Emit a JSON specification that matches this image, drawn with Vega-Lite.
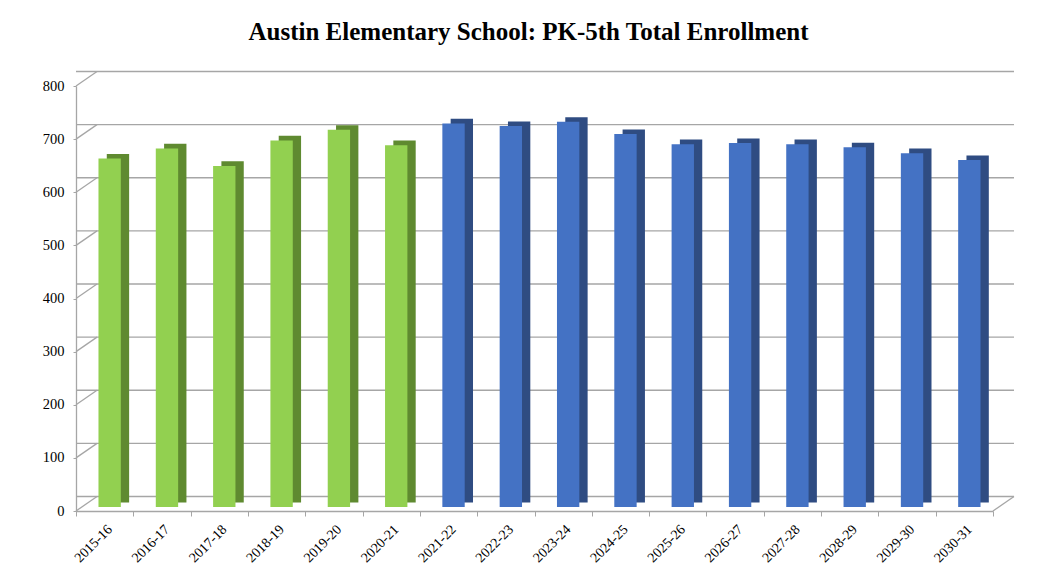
{
  "$schema": "https://vega.github.io/schema/vega-lite/v6.json",
  "width": 917,
  "height": 425,
  "autosize": "none",
  "padding": {"left": 76, "top": 86, "right": 53, "bottom": 70},
  "background": "white",
  "title": {
    "text": "Austin Elementary School: PK-5th Total Enrollment",
    "font": "Liberation Serif",
    "fontSize": 25,
    "fontWeight": "bold",
    "color": "#000000",
    "anchor": "middle",
    "frame": "group",
    "baseline": "alphabetic",
    "offset": 6,
    "dx": -6
  },
  "datasets": {
    "enrollment": [
      {"year": "2015-16", "students": 656, "period": "actual"},
      {"year": "2016-17", "students": 675, "period": "actual"},
      {"year": "2017-18", "students": 642, "period": "actual"},
      {"year": "2018-19", "students": 690, "period": "actual"},
      {"year": "2019-20", "students": 710, "period": "actual"},
      {"year": "2020-21", "students": 681, "period": "actual"},
      {"year": "2021-22", "students": 722, "period": "projected"},
      {"year": "2022-23", "students": 717, "period": "projected"},
      {"year": "2023-24", "students": 725, "period": "projected"},
      {"year": "2024-25", "students": 702, "period": "projected"},
      {"year": "2025-26", "students": 683, "period": "projected"},
      {"year": "2026-27", "students": 685, "period": "projected"},
      {"year": "2027-28", "students": 683, "period": "projected"},
      {"year": "2028-29", "students": 677, "period": "projected"},
      {"year": "2029-30", "students": 666, "period": "projected"},
      {"year": "2030-31", "students": 653, "period": "projected"}
    ],
    "grid": [
      {"year": "2015-16", "v": 0},
      {"year": "2015-16", "v": 100},
      {"year": "2015-16", "v": 200},
      {"year": "2015-16", "v": 300},
      {"year": "2015-16", "v": 400},
      {"year": "2015-16", "v": 500},
      {"year": "2015-16", "v": 600},
      {"year": "2015-16", "v": 700},
      {"year": "2015-16", "v": 800}
    ],
    "floor": [
      {"year": "2030-31", "v": 0}
    ]
  },
  "encoding": {
    "x": {
      "field": "year",
      "type": "nominal",
      "sort": null,
      "scale": {
        "domain": ["2015-16", "2016-17", "2017-18", "2018-19", "2019-20", "2020-21", "2021-22", "2022-23", "2023-24", "2024-25", "2025-26", "2026-27", "2027-28", "2028-29", "2029-30", "2030-31"],
        "paddingInner": 0,
        "paddingOuter": 0
      },
      "axis": {
        "title": null,
        "tickBand": "extent",
        "labelAngle": -45,
        "labelFont": "Liberation Serif",
        "labelFontSize": 14,
        "labelColor": "#000000",
        "labelPadding": 6,
        "tickSize": 5,
        "tickColor": "#a6a6a6",
        "domainColor": "#a6a6a6",
        "domainWidth": 1.3,
        "grid": false
      }
    }
  },
  "layer": [
    {
      "data": {"name": "grid"},
      "mark": {"type": "rule", "color": "#a6a6a6", "strokeWidth": 1.3, "xOffset": 21, "x2Offset": 21, "yOffset": -14.5},
      "encoding": {
        "x": null,
        "y": {
          "field": "v",
          "type": "quantitative",
          "scale": {"domain": [0, 800], "nice": false},
          "axis": {
            "title": null,
            "values": [0, 100, 200, 300, 400, 500, 600, 700, 800],
            "grid": false,
            "tickSize": 3,
            "tickColor": "#a6a6a6",
            "domainColor": "#a6a6a6",
            "domainWidth": 1.3,
            "labelFont": "Liberation Serif",
            "labelFontSize": 14.5,
            "labelColor": "#000000",
            "labelPadding": 9
          }
        }
      }
    },
    {
      "data": {"name": "grid"},
      "mark": {"type": "rule", "color": "#a6a6a6", "strokeWidth": 1.3, "x2Offset": 21, "y2Offset": -14.5},
      "encoding": {
        "x": {"field": "year", "type": "nominal", "sort": null, "bandPosition": 0},
        "x2": {"field": "year", "bandPosition": 0},
        "y": {"field": "v", "type": "quantitative"},
        "y2": {"field": "v"}
      }
    },
    {
      "data": {"name": "floor"},
      "mark": {"type": "rule", "color": "#a6a6a6", "strokeWidth": 1.3, "x2Offset": 21, "y2Offset": -14.5},
      "encoding": {
        "x": {"field": "year", "type": "nominal", "sort": null, "bandPosition": 1},
        "x2": {"field": "year", "bandPosition": 1},
        "y": {"field": "v", "type": "quantitative"},
        "y2": {"field": "v"}
      }
    },
    {
      "data": {"name": "enrollment"},
      "mark": {"type": "bar", "width": {"band": 0.39}, "xOffset": 13.3, "x2Offset": 13.3, "yOffset": -8.6, "y2Offset": -8.6},
      "encoding": {
        "y": {"field": "students", "type": "quantitative"},
        "color": {
          "field": "period",
          "type": "nominal",
          "scale": {"domain": ["actual", "projected"], "range": ["#5f8a30", "#2f4c82"]},
          "legend": null
        }
      }
    },
    {
      "data": {"name": "enrollment"},
      "mark": {"type": "bar", "width": {"band": 0.39}, "xOffset": 5, "x2Offset": 5, "yOffset": -4, "y2Offset": -4},
      "encoding": {
        "y": {"field": "students", "type": "quantitative"},
        "color": {
          "field": "period",
          "type": "nominal",
          "scale": {"domain": ["actual", "projected"], "range": ["#92d050", "#4472c4"]},
          "legend": null
        }
      }
    }
  ],
  "resolve": {"scale": {"color": "independent"}},
  "config": {"view": {"stroke": null}}
}
